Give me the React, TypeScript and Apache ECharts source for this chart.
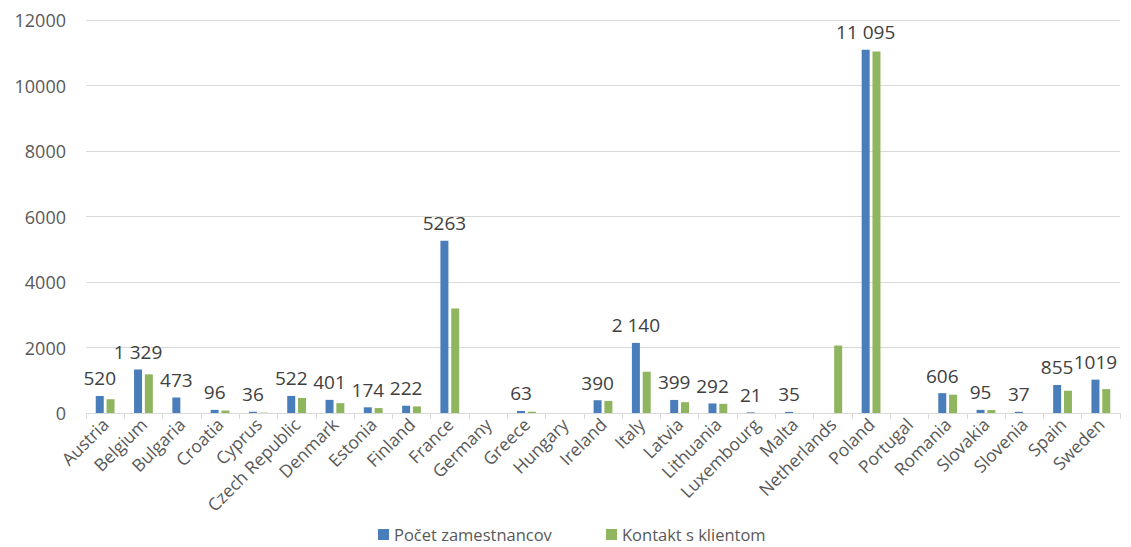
import React, { useEffect, useRef } from "react";
import * as echarts from "echarts";

const categories = [
  "Austria", "Belgium", "Bulgaria", "Croatia", "Cyprus", "Czech Republic", "Denmark",
  "Estonia", "Finland", "France", "Germany", "Greece", "Hungary", "Ireland", "Italy",
  "Latvia", "Lithuania", "Luxembourg", "Malta", "Netherlands", "Poland", "Portugal",
  "Romania", "Slovakia", "Slovenia", "Spain", "Sweden",
];

const employees = [
  520, 1329, 473, 96, 36, 522, 401, 174, 222, 5263, 0, 63, 0, 390, 2140,
  399, 292, 21, 35, 0, 11095, 0, 606, 95, 37, 855, 1019,
];

const clientContact = [
  420, 1180, 0, 75, 10, 460, 300, 150, 200, 3190, 0, 40, 0, 370, 1260,
  330, 280, 0, 0, 2060, 11040, 0, 560, 90, 0, 680, 730,
];

const employeeLabels = [
  "520", "1 329", "473", "96", "36", "522", "401", "174", "222", "5263", "", "63", "", "390", "2 140",
  "399", "292", "21", "35", "", "11 095", "", "606", "95", "37", "855", "1019",
];

const seriesNames = ["Počet zamestnancov", "Kontakt s klientom"];

const FONT = "'Open Sans', 'Noto Sans', sans-serif";

export default function App() {
  const ref = useRef<HTMLDivElement>(null);
  useEffect(() => {
    if (!ref.current) return;
    const chart = echarts.init(ref.current, undefined, { renderer: "svg" });
    const legendBase = {
      top: 521,
      itemWidth: 11,
      itemHeight: 11,
      icon: "rect",
      textStyle: { fontFamily: FONT, fontSize: 16.5, color: "#595959" },
    };
    chart.setOption({
      animation: false,
      textStyle: { fontFamily: FONT },
      grid: { left: 86, right: 11, top: 20, bottom: 134, containLabel: false },
      legend: [
        { ...legendBase, left: 373, data: [seriesNames[0]] },
        { ...legendBase, left: 601, data: [seriesNames[1]] },
      ],
      xAxis: {
        type: "category",
        data: categories,
        axisLine: { lineStyle: { color: "#d9d9d9" } },
        axisTick: { show: true, alignWithLabel: false, length: 6, lineStyle: { color: "#d9d9d9" } },
        axisLabel: {
          rotate: 45,
          interval: 0,
          fontSize: 17.5,
          color: "#595959",
          fontFamily: FONT,
          margin: 8,
        },
      },
      yAxis: {
        type: "value",
        min: 0,
        max: 12000,
        interval: 2000,
        axisLine: { show: false },
        axisTick: { show: false },
        axisLabel: {
          fontSize: 18,
          color: "#595959",
          fontFamily: FONT,
          margin: 20,
          formatter: (v: number) => String(v),
        },
        splitLine: { lineStyle: { color: "#d9d9d9", width: 1 } },
      },
      series: [
        {
          name: seriesNames[0],
          type: "bar",
          data: employees,
          barWidth: 8,
          barGap: "35%",
          itemStyle: { color: "#4a7ebb" },
          label: {
            show: true,
            position: "top",
            distance: 8,
            fontSize: 19,
            color: "#404040",
            fontFamily: FONT,
            formatter: (p: any) => employeeLabels[p.dataIndex],
          },
        },
        {
          name: seriesNames[1],
          type: "bar",
          data: clientContact,
          barWidth: 8,
          itemStyle: { color: "#8fb55e" },
        },
      ],
    });
    return () => chart.dispose();
  }, []);
  return (
    <div
      ref={ref}
      style={{ position: "absolute", left: 0, top: 0, width: 1131, height: 547 }}
    />
  );
}
